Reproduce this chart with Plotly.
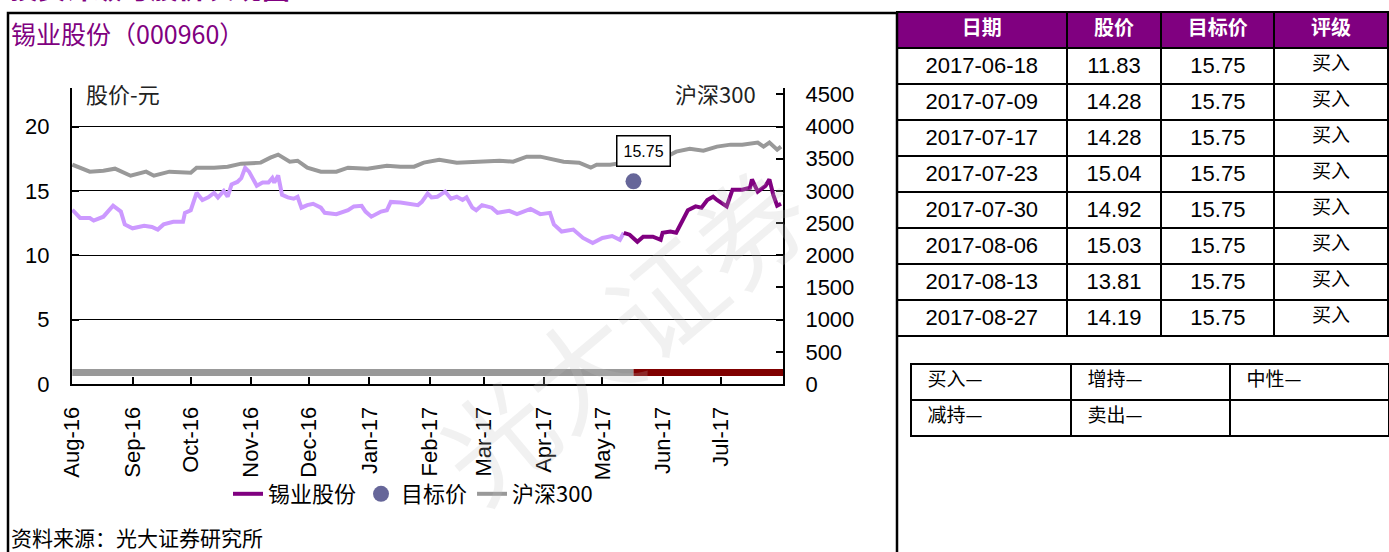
import plotly.graph_objects as go

# ---------------- data ----------------
stock_dates = [
    "2016-08-01", "2016-08-05", "2016-08-10", "2016-08-12", "2016-08-17", "2016-08-22", "2016-08-26",
    "2016-08-28", "2016-09-01", "2016-09-07", "2016-09-11", "2016-09-14", "2016-09-17", "2016-09-22",
    "2016-09-27", "2016-09-28", "2016-10-01", "2016-10-04", "2016-10-07", "2016-10-10", "2016-10-13",
    "2016-10-15", "2016-10-18", "2016-10-20", "2016-10-22", "2016-10-25", "2016-10-27", "2016-10-29",
    "2016-10-31", "2016-11-02", "2016-11-04", "2016-11-07", "2016-11-10", "2016-11-12", "2016-11-13",
    "2016-11-15", "2016-11-17", "2016-11-20", "2016-11-23", "2016-11-25", "2016-11-27", "2016-11-30",
    "2016-12-03", "2016-12-07", "2016-12-09", "2016-12-15", "2016-12-21", "2016-12-24", "2016-12-28",
    "2016-12-30", "2017-01-02", "2017-01-07", "2017-01-10", "2017-01-12", "2017-01-17", "2017-01-26",
    "2017-01-28", "2017-01-31", "2017-02-02", "2017-02-05", "2017-02-09", "2017-02-12", "2017-02-15",
    "2017-02-18", "2017-02-20", "2017-02-23", "2017-02-25", "2017-02-28", "2017-03-03", "2017-03-05",
    "2017-03-08", "2017-03-14", "2017-03-18", "2017-03-25", "2017-03-30", "2017-04-04", "2017-04-06",
    "2017-04-10", "2017-04-16", "2017-04-21", "2017-04-26", "2017-05-01", "2017-05-06", "2017-05-10",
    "2017-05-12", "2017-05-15", "2017-05-19", "2017-05-22", "2017-05-27", "2017-05-31", "2017-06-01",
    "2017-06-05", "2017-06-08", "2017-06-11", "2017-06-14", "2017-06-18", "2017-06-21", "2017-06-24",
    "2017-06-27", "2017-06-29", "2017-07-04", "2017-07-07", "2017-07-12", "2017-07-16", "2017-07-17",
    "2017-07-20", "2017-07-24", "2017-07-26", "2017-07-28", "2017-07-30", "2017-08-01",
]
stock_prices = [
    13.54, 12.9, 12.9, 12.7, 13.0, 13.85, 13.4,
    12.4, 12.1, 12.3, 12.2, 12.0, 12.4, 12.6,
    12.6, 13.3, 13.5, 14.85, 14.3, 14.5, 14.85,
    14.5, 15.0, 14.55, 15.5, 15.7, 16.0, 16.8,
    16.5, 15.9, 15.4, 15.65, 15.65, 16.0, 15.65,
    16.2, 14.7, 14.5, 14.4, 14.55, 13.7, 13.9,
    14.0, 13.7, 13.3, 13.2, 13.5, 13.8, 13.85,
    13.4, 13.0, 13.4, 13.5, 14.15, 14.1, 13.9,
    14.15, 14.8, 14.5, 14.55, 14.95, 14.4, 14.55,
    14.3, 14.5, 13.7, 13.5, 13.9, 13.8, 13.7,
    13.3, 13.45, 13.2, 13.6, 13.2, 13.3, 12.4,
    11.85, 12.0, 11.35, 10.95, 11.35, 11.5, 11.2,
    11.75, 11.6, 11.05, 11.45, 11.45, 11.2, 11.75,
    11.85, 11.75, 12.6, 13.5, 13.8, 13.7, 14.3,
    14.55, 14.3, 13.8, 15.1, 15.1, 15.25, 15.9,
    14.95, 15.4, 15.9, 14.7, 13.85, 14.0,
]
coverage_start = "2017-05-12"

hs300_dates = [
    "2016-08-01", "2016-08-05", "2016-08-10", "2016-08-17", "2016-08-23", "2016-08-31", "2016-09-08",
    "2016-09-12", "2016-09-20", "2016-10-01", "2016-10-04", "2016-10-13", "2016-10-20", "2016-10-27",
    "2016-11-06", "2016-11-11", "2016-11-15", "2016-11-21", "2016-11-25", "2016-11-30", "2016-12-07",
    "2016-12-15", "2016-12-21", "2016-12-31", "2017-01-10", "2017-01-17", "2017-01-24", "2017-01-29",
    "2017-02-06", "2017-02-15", "2017-02-23", "2017-03-03", "2017-03-09", "2017-03-16", "2017-03-23",
    "2017-03-30", "2017-04-03", "2017-04-11", "2017-04-19", "2017-04-25", "2017-04-28", "2017-05-05",
    "2017-05-12", "2017-05-25", "2017-06-03", "2017-06-08", "2017-06-15", "2017-06-22", "2017-06-29",
    "2017-07-06", "2017-07-12", "2017-07-20", "2017-07-23", "2017-07-26", "2017-07-30", "2017-08-01",
]
hs300_values = [
    3408, 3362, 3300, 3315, 3346, 3237, 3300,
    3237, 3300, 3284, 3362, 3362, 3377, 3424,
    3440, 3517, 3564, 3455, 3470, 3362, 3300,
    3300, 3362, 3346, 3393, 3377, 3377, 3440,
    3486, 3440, 3455, 3455, 3470, 3455, 3533,
    3533, 3502, 3455, 3440, 3362, 3408, 3408,
    3440, 3440, 3533, 3611, 3657, 3626, 3689,
    3720, 3720, 3751, 3689, 3751, 3642, 3689,
]

target_date = "2017-05-17"
target_price = 15.75
target_label = "15.75"

rating_dates = ["2016-08-01", "2017-05-17", "2017-08-02"]
rating_level = 0.9

x_ticks = ["2016-08-01", "2016-09-01", "2016-10-01", "2016-11-01", "2016-12-01", "2017-01-01",
           "2017-02-01", "2017-03-01", "2017-04-01", "2017-05-01", "2017-06-01", "2017-07-01"]
x_tick_labels = ["Aug-16", "Sep-16", "Oct-16", "Nov-16", "Dec-16", "Jan-17",
                 "Feb-17", "Mar-17", "Apr-17", "May-17", "Jun-17", "Jul-17"]
left_ticks = [0, 5, 10, 15, 20]
right_ticks = [0, 500, 1000, 1500, 2000, 2500, 3000, 3500, 4000, 4500]

table_header = ["日期", "股价", "目标价", "评级"]
table_dates = ["2017-06-18", "2017-07-09", "2017-07-17", "2017-07-23",
               "2017-07-30", "2017-08-06", "2017-08-13", "2017-08-27"]
table_prices = ["11.83", "14.28", "14.28", "15.04", "14.92", "15.03", "13.81", "14.19"]
table_targets = ["15.75"] * 8
table_ratings = ["买入"] * 8

rating_key_row1 = ["买入—", "增持—", "中性—"]
rating_key_row2 = ["减持—", "卖出—", ""]

# ---------------- figure ----------------
W, H = 1389, 552
def px(x):
    return x / W
def py(y):
    return 1 - y / H

NUM_FONT = "Liberation Sans, Arial, sans-serif"
CJK_FONT = "Noto Sans CJK SC, sans-serif"
DARK_PURPLE = "#800080"
LIGHT_PURPLE = "#CC99FF"
GRAY = "#999999"

fig = go.Figure()

# rating indicator lines
fig.add_trace(go.Scatter(x=rating_dates[:2], y=[rating_level] * 2, mode="lines",
                         line=dict(color=GRAY, width=7), showlegend=False, hoverinfo="skip"))
fig.add_trace(go.Scatter(x=rating_dates[1:], y=[rating_level] * 2, mode="lines",
                         line=dict(color="#800000", width=7), showlegend=False, hoverinfo="skip"))

# HS300
fig.add_trace(go.Scatter(x=hs300_dates, y=hs300_values, mode="lines", name="沪深300",
                         yaxis="y2", line=dict(color=GRAY, width=4), legendrank=3))

# stock split into pre/post coverage
pre_x = [d for d in stock_dates if d <= coverage_start]
pre_y = [v for d, v in zip(stock_dates, stock_prices) if d <= coverage_start]
post_x = [d for d in stock_dates if d >= coverage_start]
post_y = [v for d, v in zip(stock_dates, stock_prices) if d >= coverage_start]
fig.add_trace(go.Scatter(x=pre_x, y=pre_y, mode="lines", showlegend=False,
                         line=dict(color=LIGHT_PURPLE, width=4)))
fig.add_trace(go.Scatter(x=post_x, y=post_y, mode="lines", name="锡业股份",
                         line=dict(color=DARK_PURPLE, width=4), legendrank=1))

# target price
fig.add_trace(go.Scatter(x=[target_date], y=[target_price], mode="markers", name="目标价",
                         marker=dict(color="#666699", size=16), legendrank=2))

# main data table
fig.add_trace(go.Table(
    domain=dict(x=[px(897), 1.0], y=[py(350), py(12)]),
    columnwidth=[170, 95, 113, 114],
    header=dict(values=table_header, fill_color=DARK_PURPLE, height=36,
                line=dict(color="black", width=2), align="center",
                font=dict(color="white", size=20, family=CJK_FONT, weight="bold")),
    cells=dict(values=[table_dates, table_prices, table_targets, table_ratings],
               fill_color="white", height=36, line=dict(color="black", width=2),
               align="center",
               font=dict(color="black", size=[22, 22, 22, 19],
                         family=[NUM_FONT, NUM_FONT, NUM_FONT, CJK_FONT])),
))

# rating key table
fig.add_trace(go.Table(
    domain=dict(x=[px(911), 1.0], y=[0, py(364)]),
    columnwidth=[160, 159, 159],
    header=dict(values=rating_key_row1, fill_color="white", height=36, prefix="\u00a0\u00a0",
                line=dict(color="black", width=2), align="left",
                font=dict(color="black", size=19, family=CJK_FONT)),
    cells=dict(values=[[v] for v in rating_key_row2], fill_color="white", height=36,
               prefix="\u00a0\u00a0",
               line=dict(color="black", width=2), align="left",
               font=dict(color="black", size=19, family=CJK_FONT)),
))

axis_common = dict(ticks="inside", ticklen=7, tickwidth=1.5, tickcolor="black",
                   showline=True, linecolor="black", linewidth=2, zeroline=False,
                   automargin=False)

fig.update_layout(
    width=W, height=H,
    margin=dict(l=0, r=0, t=0, b=0, autoexpand=False),
    paper_bgcolor="white", plot_bgcolor="white",
    font=dict(family=NUM_FONT, size=22, color="black"),
    showlegend=True,
    legend=dict(orientation="h", x=px(413), y=py(494), xanchor="center", yanchor="middle",
                font=dict(size=22, family=CJK_FONT, color="black"),
                bgcolor="rgba(0,0,0,0)", traceorder="normal"),
    xaxis=dict(type="date", domain=[px(72), px(783)],
               range=["2016-07-31 20:00", "2017-08-02"],
               tickvals=x_ticks, ticktext=x_tick_labels, tickangle=-90,
               showgrid=False, ticklabelstandoff=12,
               tickfont=dict(size=22, family=NUM_FONT), **axis_common),
    yaxis=dict(domain=[py(384), py(88)], range=[0, 23], tickvals=left_ticks,
               showgrid=True, gridcolor="black", gridwidth=1,
               ticklabelstandoff=16, tickfont=dict(size=22, family=NUM_FONT), **axis_common),
    yaxis2=dict(overlaying="y", side="right", anchor="x", range=[0, 4600], tickvals=right_ticks,
                showgrid=False, ticklabelstandoff=16,
                tickfont=dict(size=22, family=NUM_FONT), **axis_common),
)

# frame and divider
fig.add_shape(type="rect", xref="paper", yref="paper", x0=px(8), x1=1.01, y0=-0.01, y1=py(13),
              line=dict(color="black", width=2.5), layer="below")
fig.add_shape(type="line", xref="paper", yref="paper", x0=px(897), x1=px(897), y0=0, y1=py(13),
              line=dict(color="black", width=2.5))

# watermark
fig.add_annotation(text="光大证券", xref="paper", yref="paper", x=px(620), y=py(330),
                   showarrow=False, textangle=-40,
                   font=dict(size=110, family=CJK_FONT, color="rgba(190,190,190,0.22)"))

# target label
fig.add_annotation(text=target_label, x="2017-05-22", y=18.1, xref="x", yref="y",
                   showarrow=False, bordercolor="black", borderwidth=1.5, borderpad=6,
                   bgcolor="white", font=dict(size=16, family=NUM_FONT, color="black"))

# texts
fig.add_annotation(text="投资评级与股价表现图", xref="paper", yref="paper", x=px(8), y=py(9),
                   xanchor="left", yanchor="bottom", showarrow=False,
                   font=dict(size=28, family=CJK_FONT, color=DARK_PURPLE, weight="bold"))
fig.add_annotation(text="锡业股份（000960）", xref="paper", yref="paper", x=px(9), y=py(33),
                   xanchor="left", yanchor="middle", showarrow=False,
                   font=dict(size=25, family=CJK_FONT, color=DARK_PURPLE))
fig.add_annotation(text="股价-元", xref="paper", yref="paper", x=px(84), y=py(93),
                   xanchor="left", yanchor="middle", showarrow=False,
                   font=dict(size=22, family=CJK_FONT, color="#222222"))
fig.add_annotation(text="沪深300", xref="paper", yref="paper", x=px(758), y=py(93),
                   xanchor="right", yanchor="middle", showarrow=False,
                   font=dict(size=22, family=CJK_FONT, color="#222222"))
fig.add_annotation(text="资料来源：光大证券研究所", xref="paper", yref="paper", x=px(9), y=py(537),
                   xanchor="left", yanchor="middle", showarrow=False,
                   font=dict(size=21, family=CJK_FONT, color="black"))

fig.write_html("out.html", config={"displayModeBar": False},
               post_script="document.body.style.margin='0';")
